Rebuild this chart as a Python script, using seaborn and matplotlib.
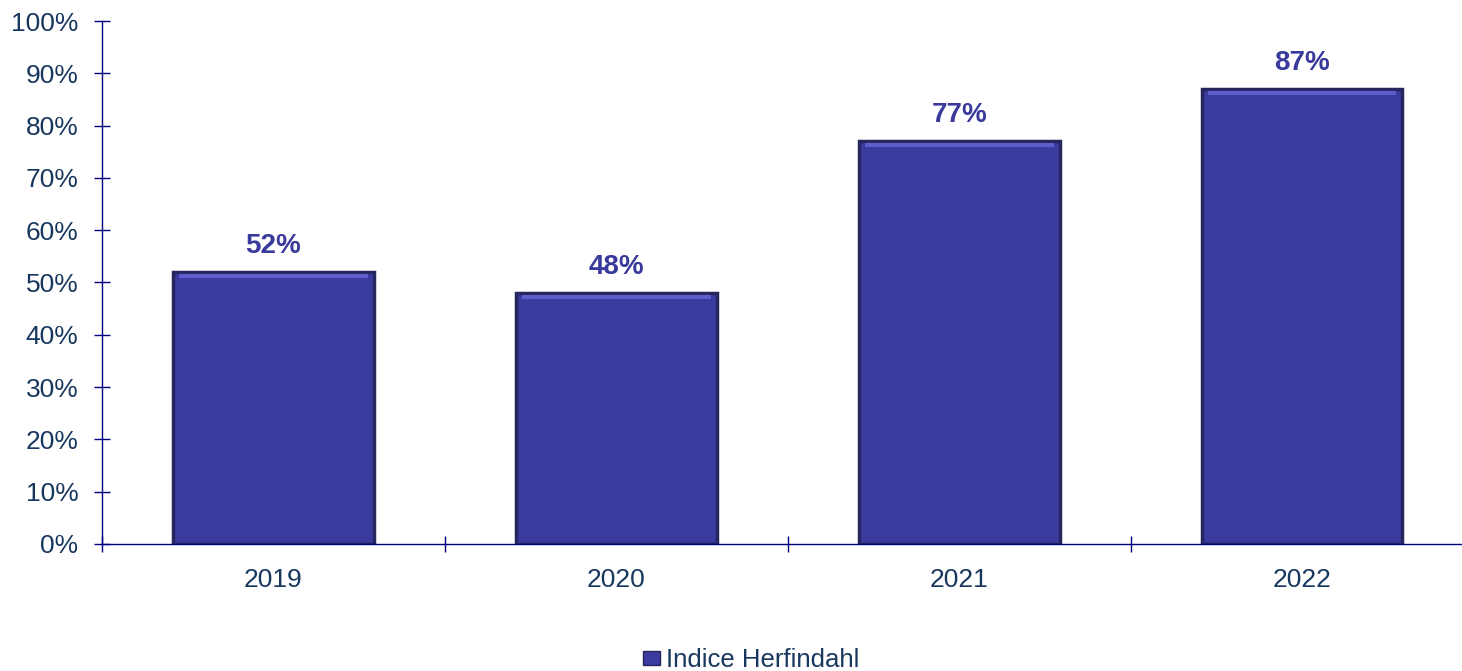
import matplotlib
matplotlib.use("Agg")
import matplotlib.pyplot as plt
import numpy as np
import pandas as pd
import seaborn as sns
from matplotlib.patches import Patch
from matplotlib.transforms import offset_copy


YEARS = ["2019", "2020", "2021", "2022"]
VALUES = [52, 48, 77, 87]
SERIES_NAME = "Indice Herfindahl"

BAR_COLOR = "#3a3a9f"
EDGE_COLOR = "#26265f"
HIGHLIGHT = "#5d5dcc"
LABEL_COLOR = "#3a3a9c"
TEXT_COLOR = "#17375e"
AXIS_COLOR = "#000080"

sns.set_theme(style="white")
plt.rcParams["font.family"] = ["Liberation Sans", "DejaVu Sans"]

df = pd.DataFrame({"year": YEARS, "value": VALUES})

fig = plt.figure(figsize=(14.62, 6.71), dpi=100)
ax = fig.add_axes([0.0698, 0.1893, 0.938, 0.7794])

sns.barplot(data=df, x="year", y="value", color=BAR_COLOR, width=0.586,
            edgecolor=EDGE_COLOR, linewidth=2.5, saturation=1, ax=ax)

# light bevel strip just under the top edge of each bar
for bar in list(ax.patches):
    x0, w, h = bar.get_x(), bar.get_width(), bar.get_height()
    ax.plot([x0 + w * 0.03, x0 + w * 0.97], [h, h], color=HIGHLIGHT, lw=3,
            transform=offset_copy(ax.transData, fig=fig, y=-4, units="dots"),
            solid_capstyle="butt", zorder=3)

for bar, v in zip(ax.patches, VALUES):
    ax.annotate(f"{v}%", (bar.get_x() + bar.get_width() / 2, bar.get_height()),
                xytext=(0, 19), textcoords="offset points", ha="center", va="center",
                fontsize=20, fontweight="bold", color=LABEL_COLOR)

ax.set_xlim(-0.5, len(YEARS) - 0.5)
ax.set_ylim(0, 100)
ax.set_yticks(np.arange(0, 101, 10))
ax.set_yticklabels([f"{t}%" for t in range(0, 101, 10)])
ax.set_xticks(np.arange(len(YEARS)))
ax.set_xticklabels(YEARS)
ax.set_xticks(np.arange(-0.5, len(YEARS), 1), minor=True)
ax.tick_params(axis="both", which="both", bottom=True, left=True)
ax.tick_params(axis="x", which="major", length=0, pad=17, labelsize=19, labelcolor=TEXT_COLOR)
ax.tick_params(axis="x", which="minor", direction="inout", length=12, width=1, color=AXIS_COLOR)
ax.tick_params(axis="y", direction="inout", length=12, width=1, color=AXIS_COLOR,
               labelsize=19, labelcolor=TEXT_COLOR, pad=11)
ax.set_xlabel("")
ax.set_ylabel("")

for side in ["top", "right"]:
    ax.spines[side].set_visible(False)
for side in ["left", "bottom"]:
    ax.spines[side].set_color(AXIS_COLOR)
    ax.spines[side].set_linewidth(1)

handles = [Patch(facecolor=BAR_COLOR, edgecolor=EDGE_COLOR, label=SERIES_NAME)]
fig.legend(handles=handles, loc="center", bbox_to_anchor=(0.514, 0.016), frameon=False,
           fontsize=18.5, handlelength=0.65, handleheight=0.5, handletextpad=0.25,
           labelcolor=TEXT_COLOR)

fig.savefig("out.png", dpi=100)
